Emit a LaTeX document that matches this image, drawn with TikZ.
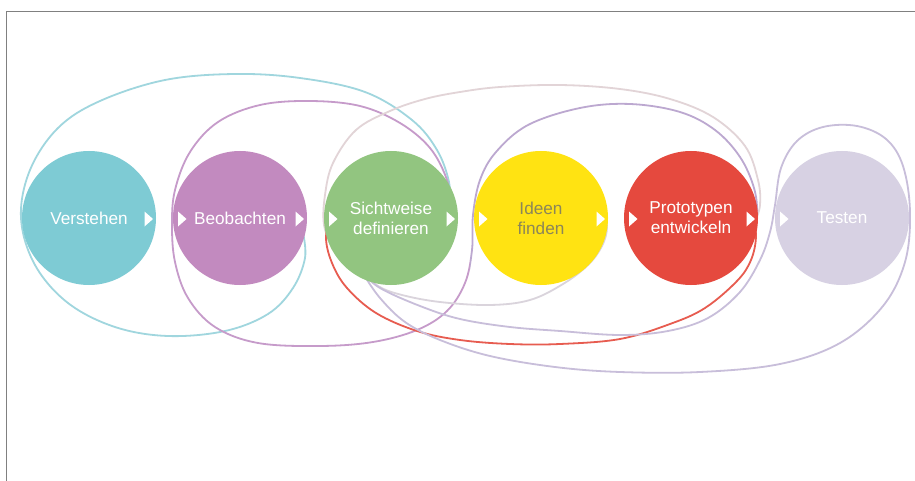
\documentclass[tikz,border=0pt]{standalone}
\usepackage{fontspec}
\setmainfont{Liberation Sans}
\definecolor{cTeal}{RGB}{126,203,212}
\definecolor{cPurple}{RGB}{194,138,191}
\definecolor{cGreen}{RGB}{146,197,128}
\definecolor{cYellow}{RGB}{255,227,18}
\definecolor{cRed}{RGB}{229,73,62}
\definecolor{cLav}{RGB}{215,209,227}
\definecolor{cIdeenText}{RGB}{140,134,88}
\definecolor{lTeal}{RGB}{160,214,222}
\definecolor{lPurple}{RGB}{198,155,202}
\definecolor{lPurpleB}{RGB}{188,168,208}
\definecolor{lLav}{RGB}{200,190,218}
\definecolor{lRed}{RGB}{231,92,80}
\definecolor{lPale}{RGB}{226,212,215}
\definecolor{lPaleB}{RGB}{218,212,220}
\definecolor{frameGray}{RGB}{128,128,128}
\tikzset{
  phase/.style={circle, minimum size=134pt, inner sep=0pt, align=center,
    text=white, font=\fontsize{17.2}{20}\selectfont},
  loopline/.style={line width=1.8pt, line cap=round},
}
\newcommand\triR[1]{\fill[white] (#1+55.5,211.5) -- (#1+55.5,226.5) -- (#1+64,219) -- cycle;}
\newcommand\triL[1]{\fill[white] (#1-62,211.5) -- (#1-62,226.5) -- (#1-53.5,219) -- cycle;}
\newcommand\ppath[1]{\draw[loopline,#1] plot[smooth,tension=0.6] coordinates {
  (451,208) (447,180) (430,148) (400,123) (360,106) (310,101) (260,105) (218,122) (190,152) (175,190)
  (172,225) (175,262) (188,298) (215,327) (258,343) (320,346) (373,342) (417,330) (447,311) (465,283)
  (472,250) (473,215) (480,180) (496,152) (528,125) (580,108) (630,104) (680,112) (715,130) (740,157)
  (754,188) (757,215) (752,236)};}
\begin{document}
\begin{tikzpicture}[x=1pt,y=-1pt]
\useasboundingbox (0,0) rectangle (915,481);
\fill[white] (0,0) rectangle (915,481);
% frame
\draw[frameGray, line width=1.3pt] (6.3,481) -- (6.3,11.7) -- (915,11.7);

% loops (drawn behind the phases)
% teal loop
\draw[loopline, lTeal] plot[smooth,tension=0.6] coordinates {
  (303,233) (305,258) (293,288) (268,314) (225,331) (168,336) (115,327) (68,303) (35,265) (21,218)
  (30,170) (58,128) (100,101) (165,80) (235,74) (300,78) (365,92) (412,120) (437,150) (449,182) (449,205)};
% purple / lavender long loop
\begin{scope}
  \clip (0,0) rectangle (470,481);
  \ppath{lPurple}
\end{scope}
\begin{scope}
  \clip (470,0) rectangle (915,481);
  \ppath{lPurpleB}
\end{scope}
% pale top of the red loop
\draw[loopline, lPale] plot[smooth,tension=0.6] coordinates {
  (333,250) (324,225) (325,195) (333,163) (356,130) (390,111) (425,99) (460,92) (500,87) (560,85)
  (620,89) (670,99) (713,117) (745,146) (758,180) (760,205) (755,222)};
% red bottom of the loop
\draw[loopline, lRed] plot[smooth,tension=0.6] coordinates {
  (332,212) (326,237) (332,263) (347,288) (376,313) (417,331) (460,340) (510,344) (560,344)
  (620,339) (670,324) (705,308) (737,281) (751,260) (756,236) (752,215)};
% pale loop under Ideen
\draw[loopline, lPaleB] plot[smooth,tension=0.6] coordinates {
  (362,270) (378,286) (402,295) (440,302) (490,305) (530,300) (563,284) (588,265) (602,246) (607,228) (604,212)};
% Testen loop
\draw[loopline, lLav] plot[smooth,tension=0.6] coordinates {
  (362,272) (380,288) (420,306) (460,319) (510,327) (560,331) (620,335) (668,331) (708,318)
  (740,292) (760,260) (770,232) (775,205) (781,168) (797,141) (823,127) (857,126) (886,139)
  (903,166) (910,212) (905,262) (883,306) (840,343) (780,364) (700,372) (620,372) (555,367)
  (490,356) (440,340) (405,322) (380,298) (364,275)};

% phases
\node[phase, fill=cTeal]   (verstehen)  at (89,218)  {Verstehen};
\node[phase, fill=cPurple] (beobachten) at (240,218) {Beobachten};
\node[phase, fill=cGreen]  (sichtweise) at (391,218) {Sichtweise\\definieren};
\node[phase, fill=cYellow, text=cIdeenText] (ideen) at (541,218) {Ideen\\finden};
\node[phase, fill=cRed]    (prototypen) at (691,218) {Prototypen\\entwickeln};
\node[phase, fill=cLav]    (testen)     at (842,218) {Testen};

% small white triangles
\triR{89}
\triL{240}\triR{240}
\triL{391}\triR{391}
\triL{541}\triR{541}
\triL{691}\triR{691}
\triL{842}
\end{tikzpicture}
\end{document}
